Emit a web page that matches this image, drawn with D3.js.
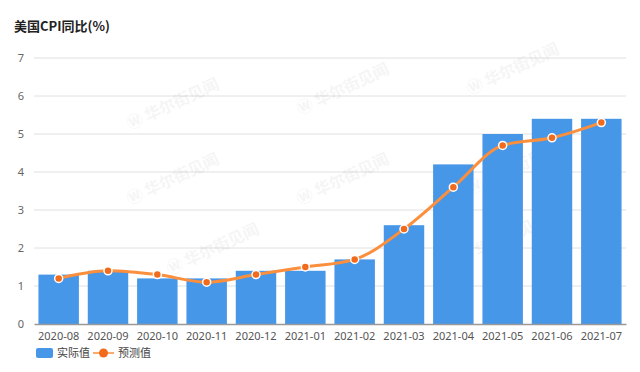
<!DOCTYPE html>
<html lang="zh">
<head>
<meta charset="UTF-8">
<script src="https://d3js.org/d3.v7.min.js"></script>
<style>
  body { margin: 0; background: #fff; }
  svg { font-family: "Noto Sans CJK SC", "Noto Sans", sans-serif; display: block; }
</style>
</head>
<body>
<svg id="chart" width="640" height="372"></svg>
<script>
// Data
const months = ['2020-08', '2020-09', '2020-10', '2020-11', '2020-12', '2021-01',
                '2021-02', '2021-03', '2021-04', '2021-05', '2021-06', '2021-07'];
const actual = [1.3, 1.4, 1.2, 1.2, 1.4, 1.4, 1.7, 2.6, 4.2, 5.0, 5.4, 5.4];
const forecast = [1.2, 1.4, 1.3, 1.1, 1.3, 1.5, 1.7, 2.5, 3.6, 4.7, 4.9, 5.3];
const yTicks = [0, 1, 2, 3, 4, 5, 6, 7];

const svg = d3.select('#chart');
const plotLeft = 34, plotRight = 626, plotTop = 58, plotBottom = 324;

const x = d3.scaleBand().domain(months).range([plotLeft, plotRight]).paddingInner(0.18).paddingOuter(0.09);
const y = d3.scaleLinear().domain([0, 7]).range([plotBottom, plotTop]);

// Title
svg.append('text')
  .attr('x', 14).attr('y', 31)
  .attr('font-size', 13).attr('font-weight', 'bold').attr('fill', '#222')
  .text('美国CPI同比(%)');

// Grid lines
svg.append('g').selectAll('line')
  .data(yTicks.filter(d => d > 0))
  .join('line')
  .attr('x1', plotLeft).attr('x2', plotRight)
  .attr('y1', d => y(d)).attr('y2', d => y(d))
  .attr('stroke', '#e0e0e0').attr('stroke-width', 1);

// Y labels
const yAxis = svg.append('g')
  .attr('transform', `translate(${plotLeft},0)`)
  .call(d3.axisLeft(y).tickValues(yTicks).tickFormat(d3.format('d')).tickSize(0).tickPadding(10));
yAxis.select('.domain').remove();
yAxis.selectAll('text').attr('fill', '#666').attr('font-size', 11)
  .attr('font-family', '"Noto Sans", sans-serif');

// Watermarks
const wm = [[130, 130], [300, 115], [470, 95], [130, 205], [300, 205], [470, 195], [170, 275], [460, 265]];
svg.append('g').selectAll('text')
  .data(wm)
  .join('text')
  .attr('transform', d => `translate(${d[0]},${d[1]}) rotate(-25)`)
  .attr('font-size', 16).attr('font-weight', 'bold')
  .attr('fill', '#000').attr('opacity', 0.035)
  .text('Ⓦ 华尔街见闻');

// Bars
svg.append('g').selectAll('rect')
  .data(months)
  .join('rect')
  .attr('x', d => x(d))
  .attr('width', x.bandwidth())
  .attr('y', (d, i) => y(actual[i]))
  .attr('height', (d, i) => y(0) - y(actual[i]))
  .attr('fill', '#4697e8');

// X axis
const xAxis = svg.append('g')
  .attr('transform', `translate(0,${plotBottom})`)
  .call(d3.axisBottom(x).tickSize(0).tickPadding(8));
xAxis.select('.domain').attr('stroke', '#999').attr('stroke-width', 1.5);
xAxis.selectAll('text').attr('fill', '#555').attr('font-size', 11)
  .attr('font-family', '"Noto Sans", sans-serif');

// Forecast line
const line = d3.line()
  .x((d, i) => x(months[i]) + x.bandwidth() / 2)
  .y(d => y(d))
  .curve(d3.curveMonotoneX);

svg.append('path')
  .datum(forecast)
  .attr('d', line)
  .attr('fill', 'none')
  .attr('stroke', '#fb8f3d')
  .attr('stroke-width', 3);

svg.append('g').selectAll('circle')
  .data(forecast)
  .join('circle')
  .attr('cx', (d, i) => x(months[i]) + x.bandwidth() / 2)
  .attr('cy', d => y(d))
  .attr('r', 4)
  .attr('fill', '#f26b1d')
  .attr('stroke', '#fff')
  .attr('stroke-width', 1.5);

// Legend
const lg = svg.append('g').attr('font-size', 11).attr('fill', '#444');
lg.append('rect').attr('x', 36).attr('y', 348).attr('width', 17).attr('height', 10)
  .attr('rx', 2).attr('fill', '#4697e8');
lg.append('text').attr('x', 57).attr('y', 357).attr('fill', '#444').text('实际值');
lg.append('line').attr('x1', 93).attr('x2', 114).attr('y1', 353).attr('y2', 353)
  .attr('stroke', '#fb8f3d').attr('stroke-width', 1.5);
lg.append('circle').attr('cx', 103.5).attr('cy', 353).attr('r', 4.5).attr('fill', '#f26b1d');
lg.append('text').attr('x', 118).attr('y', 357).attr('fill', '#444').text('预测值');
</script>
</body>
</html>
